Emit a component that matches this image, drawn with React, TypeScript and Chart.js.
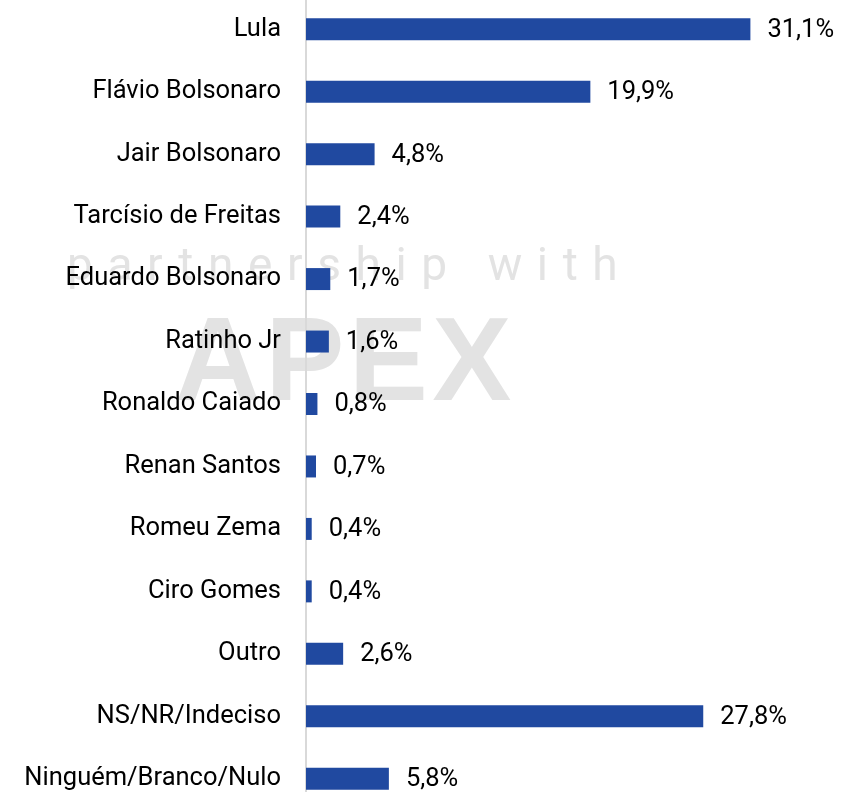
import React, { useEffect, useRef } from "react";
import { Chart, registerables } from "chart.js";

Chart.register(...registerables);

const categories = [
  "Lula",
  "Flávio Bolsonaro",
  "Jair Bolsonaro",
  "Tarcísio de Freitas",
  "Eduardo Bolsonaro",
  "Ratinho Jr",
  "Ronaldo Caiado",
  "Renan Santos",
  "Romeu Zema",
  "Ciro Gomes",
  "Outro",
  "NS/NR/Indeciso",
  "Ninguém/Branco/Nulo",
];

const values = [31.1, 19.9, 4.8, 2.4, 1.7, 1.6, 0.8, 0.7, 0.4, 0.4, 2.6, 27.8, 5.8];

const watermarkLine1 = "partnership with";
const watermarkLine2 = "APEX";

const BAR_COLOR = "#2049A0";
const FONT = "Roboto";
const FONT_SIZE = 25.5;

const fmt = (v: number) => v.toFixed(1).replace(".", ",") + "%";

const watermarkPlugin = {
  id: "watermark",
  beforeDraw(chart: any) {
    const ctx = chart.ctx as CanvasRenderingContext2D;
    ctx.save();
    ctx.fillStyle = "#e3e3e3";
    ctx.textAlign = "left";
    ctx.textBaseline = "alphabetic";
    ctx.font = `46px "${FONT}"`;
    (ctx as any).letterSpacing = "14.6px";
    ctx.fillText(watermarkLine1, 67, 282);
    ctx.font = `bold 118.6px "Liberation Sans"`;
    (ctx as any).letterSpacing = "4.5px";
    ctx.fillText(watermarkLine2, 175, 402);
    (ctx as any).letterSpacing = "0px";
    ctx.restore();
  },
};

const valueLabelPlugin = {
  id: "valueLabels",
  afterDatasetsDraw(chart: any) {
    const ctx = chart.ctx as CanvasRenderingContext2D;
    const meta = chart.getDatasetMeta(0);
    ctx.save();
    ctx.fillStyle = "#000000";
    ctx.font = `${FONT_SIZE}px "${FONT}"`;
    ctx.textAlign = "left";
    ctx.textBaseline = "middle";
    meta.data.forEach((bar: any, i: number) => {
      ctx.fillText(fmt(values[i]), bar.x + 17, bar.y + 1);
    });
    ctx.restore();
  },
};

export default function App() {
  const ref = useRef<HTMLCanvasElement | null>(null);
  useEffect(() => {
    if (!ref.current) return;
    const chart = new Chart(ref.current, {
      type: "bar",
      data: {
        labels: categories,
        datasets: [
          {
            data: values,
            backgroundColor: BAR_COLOR,
            borderWidth: 0,
            barPercentage: 0.352,
            categoryPercentage: 1,
          },
        ],
      },
      options: {
        indexAxis: "y",
        responsive: false,
        animation: false,
        devicePixelRatio: 1,
        layout: { padding: 0 },
        plugins: {
          legend: { display: false },
          tooltip: { enabled: false },
        },
        scales: {
          x: {
            display: false,
            min: 0,
            max: 37.65,
          },
          y: {
            offset: true,
            grid: { display: false, drawTicks: false },
            border: { display: true, color: "#d9d9d9", width: 2 },
            ticks: {
              color: "#000000",
              padding: 25,
              font: { family: FONT, size: FONT_SIZE },
            },
            afterFit: (scale: any) => {
              scale.width = 306;
              scale.paddingTop = 0;
              scale.paddingBottom = 0;
            },
          },
        },
      },
      plugins: [watermarkPlugin, valueLabelPlugin],
    });
    return () => chart.destroy();
  }, []);
  return (
    <div style={{ position: "fixed", left: 0, top: 0, width: 844, height: 792, overflow: "hidden", background: "#ffffff" }}>
      <canvas ref={ref} width={844} height={812} style={{ position: "absolute", left: 0, top: -2, width: 844, height: 812 }} />
    </div>
  );
}
